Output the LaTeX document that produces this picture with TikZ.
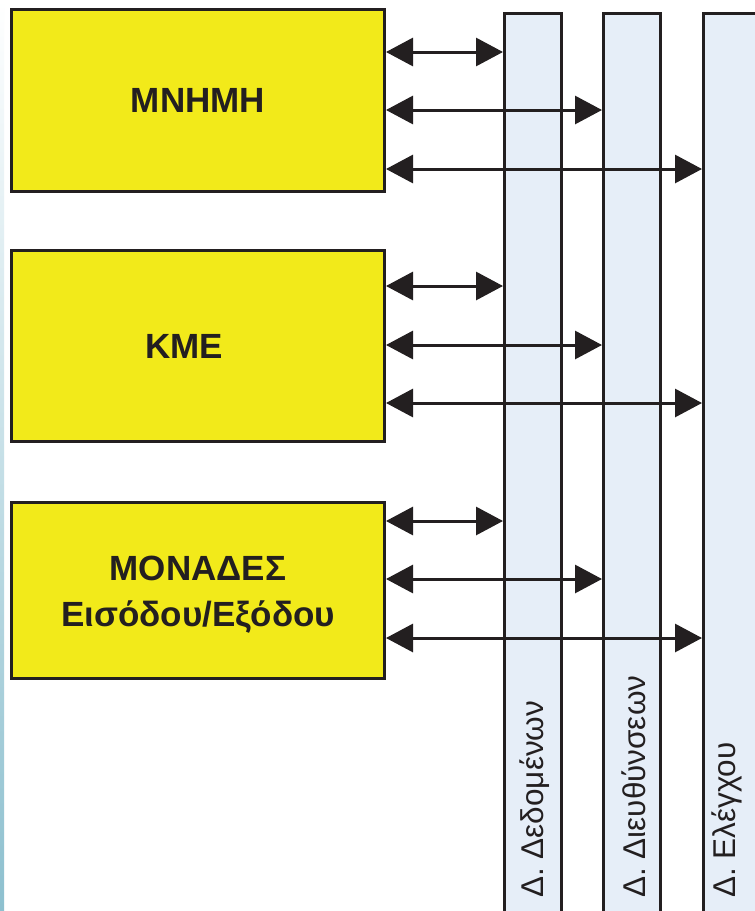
\documentclass[tikz,border=0pt]{standalone}
\usepackage{fontspec}
\setmainfont{Liberation Sans}
\usepackage{xcolor}
\usepackage{tikz}
\usetikzlibrary{positioning}
\usetikzlibrary{arrows.meta}
\definecolor{unityellow}{HTML}{F2EA1A}
\definecolor{busblue}{HTML}{E6EEF8}
\definecolor{edgegray}{HTML}{231F20}
\definecolor{stripblue}{HTML}{8DC0CF}

\begin{document}
\begin{tikzpicture}[
x=1pt, y=-1pt,
unit/.style={rectangle, draw=edgegray, line width=3pt, fill=unityellow, minimum width=373pt, text=edgegray, align=center, font=\fontsize{35}{46}\selectfont\bfseries},
bus/.style={rectangle, draw=edgegray, line width=3pt, fill=busblue, minimum width=57pt, minimum height=940pt, anchor=north},
buslbl/.style={rotate=90, anchor=base west, inner sep=0pt, text=edgegray, font=\fontsize{31.5}{36}\selectfont},
link/.style={draw=edgegray, line width=3pt, {Triangle[length=27pt, width=28pt]}-{Triangle[length=27pt, width=28pt]}},
]
\useasboundingbox (0,0) rectangle (755,911);
\fill[white] (0,0) rectangle (755,911);
\shade[top color=white, bottom color=stripblue] (0,0) rectangle (4,911);

\node[bus] (dat) at (533,12) {};
\node[bus] (adr) [right=39pt of dat] {};
\node[bus] (ctl) [right=40pt of adr] {};

\node[unit, minimum height=182pt] (mem) at (198,100.5) {ΜΝΗΜΗ};
\node[unit, minimum height=191pt] (cpu) [below=56pt of mem] {};
\node[unit, minimum height=176pt] (io) [below=58pt of cpu] {};
\node[unit, draw=none, fill=none] (cputxt) at ([xshift=-14pt]cpu.center) {ΚΜΕ};
\node[unit, draw=none, fill=none] (iotxt) at ([yshift=-4pt]io.center) {ΜΟΝΑΔΕΣ\\Εισόδου/Εξόδου};

\node[buslbl] (datlbl) at ([xshift=10pt]dat.center |- 0,898) {Δ. Δεδομένων};
\node[buslbl] (adrlbl) at ([xshift=13pt]adr.center |- 0,898) {Δ. Διευθύνσεων};
\node[buslbl] (ctllbl) at ([xshift=3pt]ctl.center |- 0,898) {Δ. Ελέγχου};

\draw[link] (mem.east |- 0,52) -- (dat.west |- 0,52);
\draw[link] (mem.east |- 0,110) -- (adr.west |- 0,110);
\draw[link] (mem.east |- 0,169) -- (ctl.west |- 0,169);

\draw[link] (cpu.east |- 0,286) -- (dat.west |- 0,286);
\draw[link] (cpu.east |- 0,345) -- (adr.west |- 0,345);
\draw[link] (cpu.east |- 0,403) -- (ctl.west |- 0,403);

\draw[link] (io.east |- 0,521) -- (dat.west |- 0,521);
\draw[link] (io.east |- 0,579) -- (adr.west |- 0,579);
\draw[link] (io.east |- 0,638) -- (ctl.west |- 0,638);
\end{tikzpicture}
\end{document}
